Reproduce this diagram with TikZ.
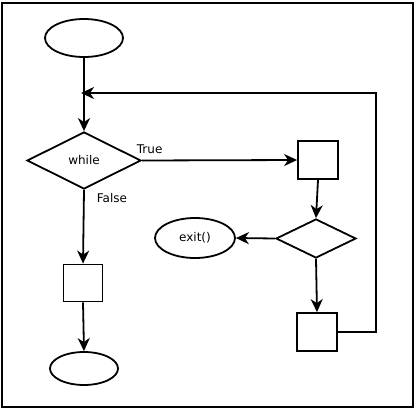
\documentclass[tikz,border=0pt]{standalone}
\usepackage{fontspec}
\setmainfont{DejaVu Sans}
\usetikzlibrary{arrows.meta,shapes.geometric}
\begin{document}
\begin{tikzpicture}[x=1pt,y=-1pt,
  line width=1.8pt,
  every node/.style={font=\fontsize{12}{14}\selectfont},
  flow/.style={draw, inner sep=0pt, line width=1.8pt},
  term/.style={flow, ellipse},
  proc/.style={flow, rectangle},
  cond/.style={flow, diamond, aspect=2},
  link/.style={-{Stealth[length=13pt,width=12pt,inset=4pt]}},
  lbl/.style={inner sep=0pt, anchor=base west}]
\useasboundingbox (0,0) rectangle (416,410);
% frame
\draw[line width=2.2pt] (2,3) rectangle (413,407);
% left column
\node[term, minimum width=78pt, minimum height=38pt] (start) at (84,38) {};
\node[cond, minimum width=114pt, minimum height=57pt] (while) at (84,160.5) {while};
\node[proc, minimum width=39pt, minimum height=37pt] (body) at (83,283) {};
\node[term, minimum width=68pt, minimum height=33pt] (stop) at (84,368.5) {};
% right column
\node[proc, minimum width=40pt, minimum height=38pt] (p1) at (318,160) {};
\node[cond, minimum width=80pt, minimum height=39pt] (c2) at (316,238.5) {};
\node[term, minimum width=80pt, minimum height=40pt] (exit) at (195,238) {exit()};
\node[proc, minimum width=40pt, minimum height=38pt] (p3) at (317,332) {};
\coordinate (back) at (81,93);
% branch labels
\node[lbl] (truelbl) at (136,153) {True};
\node[lbl] (falselbl) at (96,202) {False};
% connectors
\draw[link] (start.south) -- (while.north);
\draw[link] (while.east) -- (p1.west);
\draw[link] (while.south) -- (body.north);
\draw[link] (body.south) -- (stop.north);
\draw[link] (p1.south) -- (c2.north);
\draw[link] (c2.west) -- (exit.east);
\draw[link] (c2.south) -- (p3.north);
\draw[link] (p3.east) -- (376,332) -- (376,93) -- (back);
\end{tikzpicture}
\end{document}
